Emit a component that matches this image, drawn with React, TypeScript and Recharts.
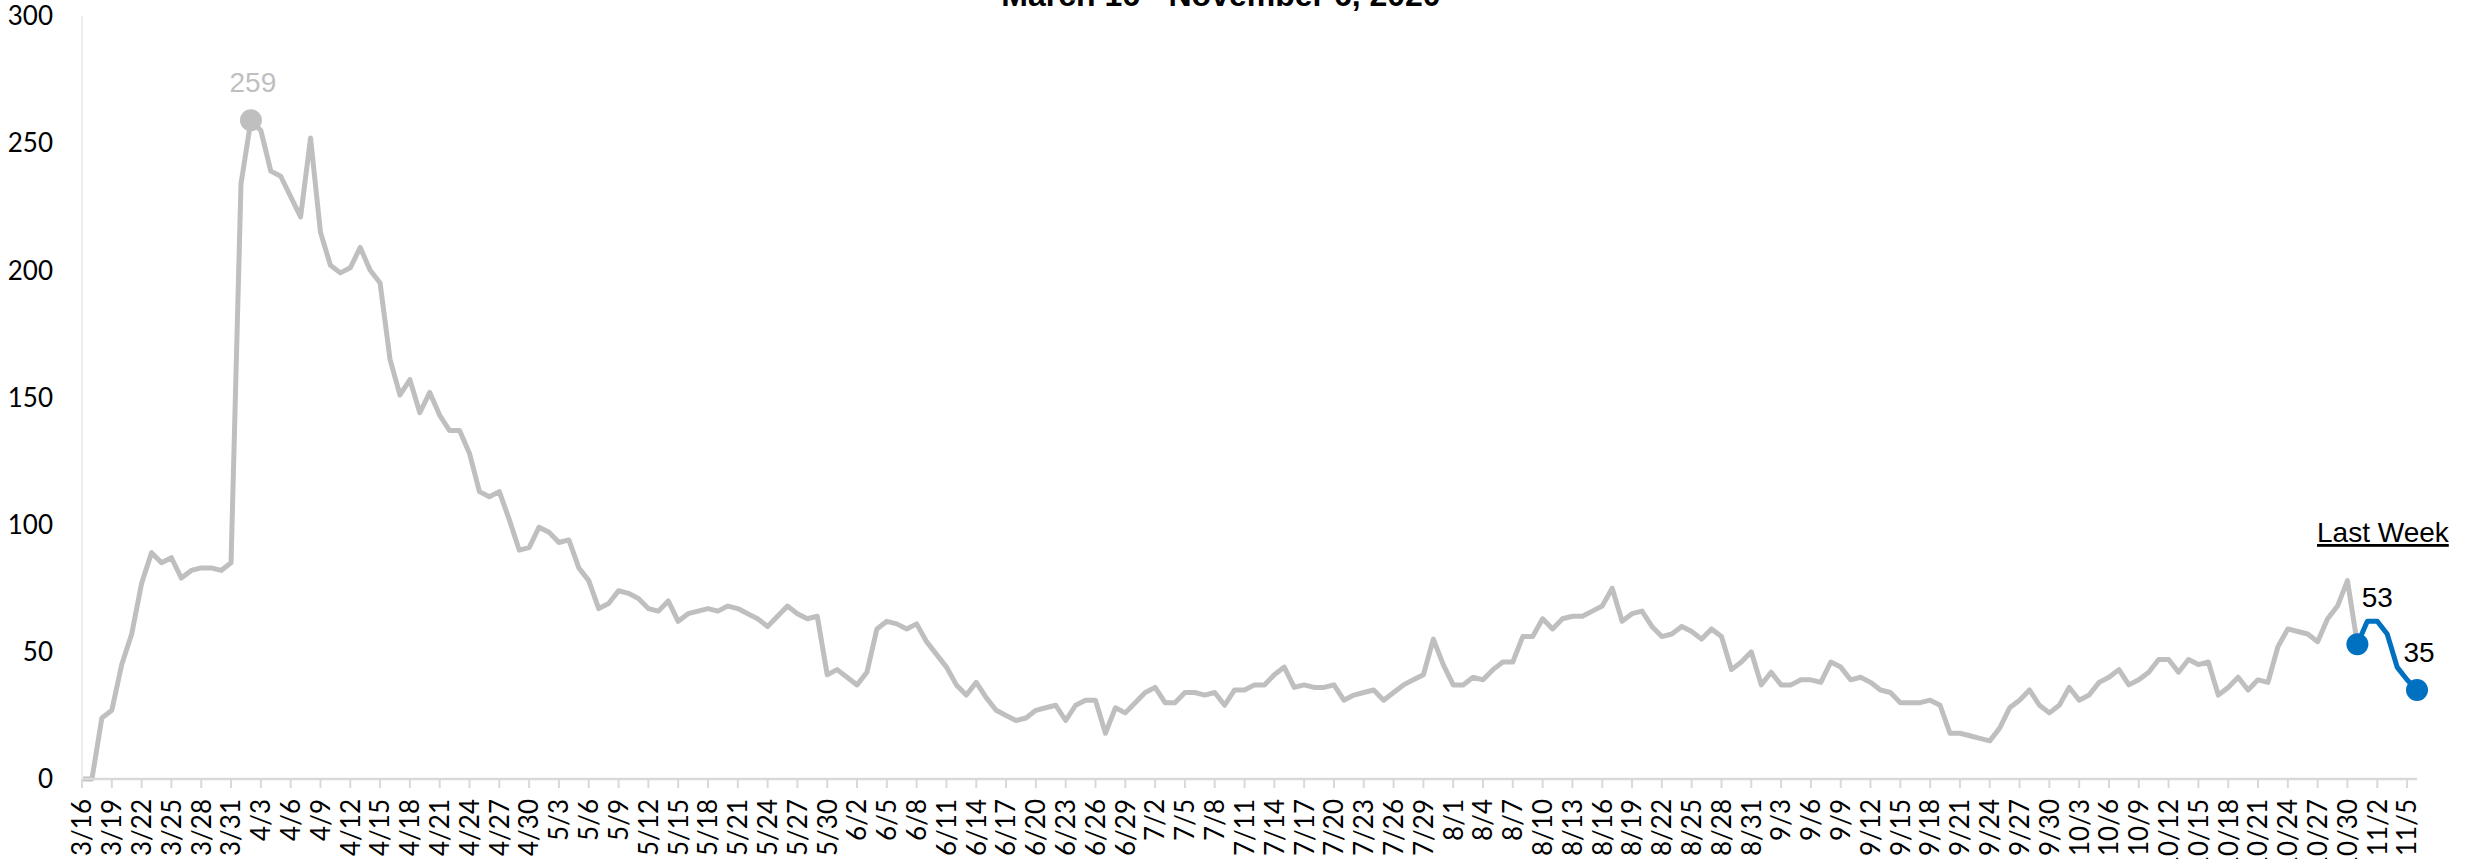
import React from "react";
import { LineChart, Line, XAxis, YAxis } from "recharts";

// daily values (3/16 .. 11/6)
const mar = [0, 0, 24, 27, 45, 57, 77, 89, 85, 87, 79, 82, 83, 83, 82, 85];
const apr = [234, 259, 255, 239, 237, 229, 221, 252, 215, 202, 199, 201, 209, 200, 195, 165, 151, 157, 144, 152, 143, 137, 137, 128, 113, 111, 113, 102, 90, 91];
const may = [99, 97, 93, 94, 83, 78, 67, 69, 74, 73, 71, 67, 66, 70, 62, 65, 66, 67, 66, 68, 67, 65, 63, 60, 64, 68, 65, 63, 64, 41, 43];
const jun = [40, 37, 42, 59, 62, 61, 59, 61, 54, 49, 44, 37, 33, 38, 32, 27, 25, 23, 24, 27, 28, 29, 23, 29, 31, 31, 18, 28, 26, 30];
const jul = [34, 36, 30, 30, 34, 34, 33, 34, 29, 35, 35, 37, 37, 41, 44, 36, 37, 36, 36, 37, 31, 33, 34, 35, 31, 34, 37, 39, 41, 55, 45];
const aug = [37, 37, 40, 39, 43, 46, 46, 56, 56, 63, 59, 63, 64, 64, 66, 68, 75, 62, 65, 66, 60, 56, 57, 60, 58, 55, 59, 56, 43, 46, 50];
const sep = [37, 42, 37, 37, 39, 39, 38, 46, 44, 39, 40, 38, 35, 34, 30, 30, 30, 31, 29, 18, 18, 17, 16, 15, 20, 28, 31, 35, 29, 26];
const oct = [29, 36, 31, 33, 38, 40, 43, 37, 39, 42, 47, 47, 42, 47, 45, 46, 33, 36, 40, 35, 39, 38, 52, 59, 58, 57, 54, 63, 68, 78, 53];
const nov = [62, 62, 57, 44, 39, 35];

const values = [...mar, ...apr, ...may, ...jun, ...jul, ...aug, ...sep, ...oct, ...nov];

// calendar labels m/d starting 3/16/2020
const dates = values.map((_, i) => {
  const d = new Date(2020, 2, 16 + i);
  return `${d.getMonth() + 1}/${d.getDate()}`;
});

const yTicks = [0, 50, 100, 150, 200, 250, 300];
const LAST_WEEK_START = values.length - 7;
const LAST = values.length - 1;
const PEAK = values.indexOf(Math.max(...values));

const data = dates.map((date, i) => ({
  date,
  history: i <= LAST_WEEK_START ? values[i] : null,
  lastWeek: i >= LAST_WEEK_START ? values[i] : null,
}));

const GRAY = "#bfbfbf";
const BLUE = "#0070c0";
const AXIS_FONT = "Lato, 'Open Sans', sans-serif";
const LABEL_FONT = "'Liberation Sans', Arial, sans-serif";

const DateTick = (props: any) => {
  const { x, y, payload } = props;
  return (
    <text
      x={x}
      y={y}
      dy="0.36em"
      transform={`rotate(-90, ${x}, ${y})`}
      textAnchor="end"
      fontSize={26}
      fontFamily={AXIS_FONT}
      fill="#000"
    >
      {payload.value}
    </text>
  );
};

const PeakDot = (props: any) => {
  const { cx, cy, index, value } = props;
  if (index !== PEAK || cy == null) return <g key={index} />;
  return (
    <g key={index}>
      <circle cx={cx} cy={cy} r={11} fill={GRAY} />
      <text x={cx + 2} y={cy - 28} textAnchor="middle" fontSize={28} fontFamily={LABEL_FONT} fill={GRAY}>
        {Array.isArray(value) ? value[1] : value}
      </text>
    </g>
  );
};

const WeekDot = (props: any) => {
  const { cx, cy, index, value } = props;
  if ((index !== LAST_WEEK_START && index !== LAST) || cy == null) return <g key={index} />;
  const v = Array.isArray(value) ? value[1] : value;
  const first = index === LAST_WEEK_START;
  return (
    <g key={index}>
      <circle cx={cx} cy={cy} r={11} fill={BLUE} />
      <text
        x={cx + (first ? 20 : 2)}
        y={cy - (first ? 37 : 28)}
        textAnchor="middle"
        fontSize={28}
        fontFamily={LABEL_FONT}
        fill="#000"
      >
        {v}
      </text>
    </g>
  );
};

export default function App() {
  return (
    <div style={{ position: "absolute", left: 0, top: 0, width: 2469, height: 859, background: "#fff", overflow: "hidden" }}>
      <LineChart width={2469} height={859} data={data} margin={{ top: 16, right: 52, bottom: 0, left: 0 }}>
        <XAxis
          dataKey="date"
          interval={2}
          height={80}
          axisLine={{ stroke: "#d9d9d9", strokeWidth: 2.5 }}
          tickLine={{ stroke: "#d9d9d9", strokeWidth: 2 }}
          tickSize={9}
          tickMargin={11}
          tick={<DateTick />}
        />
        <YAxis
          domain={[0, 300]}
          ticks={yTicks}
          width={82}
          tickLine={false}
          tickSize={0}
          tickMargin={29}
          axisLine={{ stroke: "#eeeeee", strokeWidth: 2 }}
          tick={{ fontSize: 26, fill: "#000", fontFamily: AXIS_FONT }}
        />
        <Line
          dataKey="history"
          stroke={GRAY}
          strokeWidth={5}
          strokeLinejoin="round"
          dot={PeakDot}
          activeDot={false}
          isAnimationActive={false}
        />
        <Line
          dataKey="lastWeek"
          stroke={BLUE}
          strokeWidth={5}
          strokeLinejoin="round"
          dot={WeekDot}
          activeDot={false}
          isAnimationActive={false}
        />
      </LineChart>
      <svg width={2469} height={859} style={{ position: "absolute", left: 0, top: 0, pointerEvents: "none" }}>
        <text x={1221} y={6} textAnchor="middle" fontSize={32} fontWeight="bold" fontFamily={LABEL_FONT} fill="#000">
          March 16 - November 6, 2020
        </text>
        <text x={2317} y={542} fontSize={28} fontFamily={LABEL_FONT} fill="#000" textDecoration="underline">
          Last Week
        </text>
      </svg>
    </div>
  );
}
